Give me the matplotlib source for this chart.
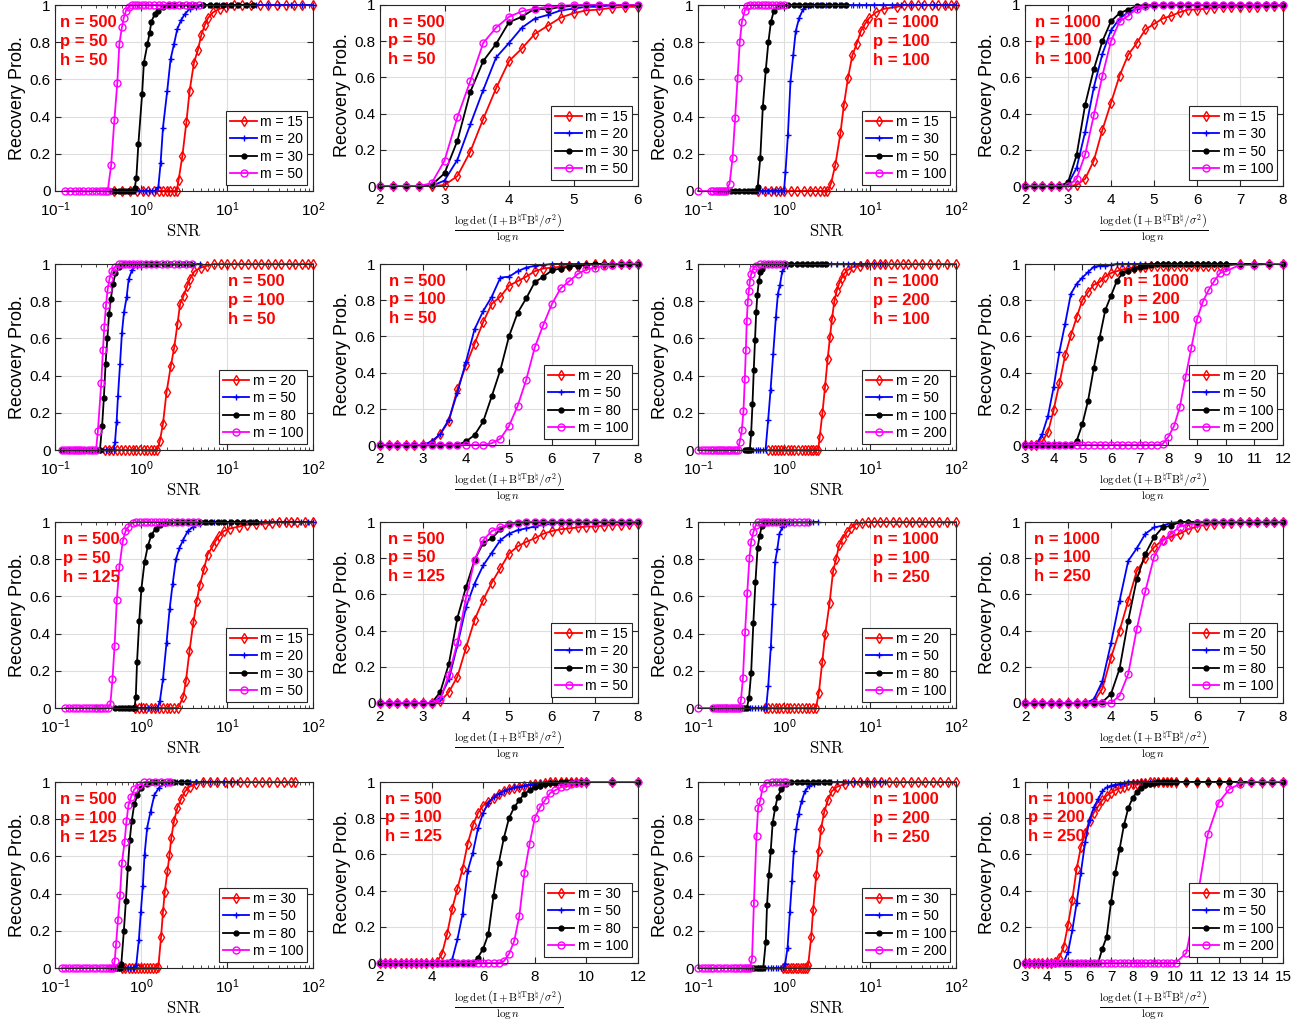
import matplotlib
matplotlib.use("Agg")
import matplotlib.pyplot as plt
from matplotlib.ticker import LogLocator, NullFormatter, FixedLocator

plt.rcParams['font.family'] = ['Liberation Sans', 'DejaVu Sans']
plt.rcParams['mathtext.fontset'] = 'cm'

# ---------------- data ----------------
grid_2_6 = [2.0, 2.2, 2.4, 2.6, 2.8, 3.0, 3.2, 3.4, 3.6, 3.8, 4.0, 4.2, 4.4, 4.6,
            4.8, 5.0, 5.2, 5.4, 5.6, 5.8, 6.0]
grid_2_8 = [2.0, 2.2, 2.4, 2.6, 2.8, 3.0, 3.2, 3.4, 3.6, 3.8, 4.0, 4.2, 4.4, 4.6,
            4.8, 5.0, 5.2, 5.4, 5.6, 5.8, 6.0, 6.2, 6.4, 6.6, 6.8, 7.0, 7.2, 7.4,
            7.6, 7.8, 8.0]
grid_3_12 = [3.0, 3.2, 3.4, 3.6, 3.8, 4.0, 4.2, 4.4, 4.6, 4.8, 5.0, 5.2, 5.4, 5.6,
             5.8, 6.0, 6.2, 6.4, 6.6, 6.8, 7.0, 7.2, 7.4, 7.6, 7.8, 8.0, 8.2, 8.4,
             8.6, 8.8, 9.0, 9.2, 9.4, 9.6, 9.8, 10.0, 10.5, 11.0, 11.5, 12.0]
grid_2_12 = [2.0, 2.2, 2.4, 2.6, 2.8, 3.0, 3.2, 3.4, 3.6, 3.8, 4.0, 4.2, 4.4, 4.6,
             4.8, 5.0, 5.2, 5.4, 5.6, 5.8, 6.0, 6.2, 6.4, 6.6, 6.8, 7.0, 7.2, 7.4,
             7.6, 7.8, 8.0, 8.2, 8.4, 8.6, 8.8, 9.0, 9.2, 9.4, 9.6, 9.8, 10.0,
             11.0, 12.0]
grid_3_15 = [3.0, 3.2, 3.4, 3.6, 3.8, 4.0, 4.2, 4.4, 4.6, 4.8, 5.0, 5.2, 5.4, 5.6,
             5.8, 6.0, 6.2, 6.4, 6.6, 6.8, 7.0, 7.2, 7.4, 7.6, 7.8, 8.0, 8.2, 8.4,
             8.6, 8.8, 9.0, 9.2, 9.4, 9.6, 9.8, 10.0, 10.5, 11.0, 11.5, 12.0,
             12.5, 13.0, 13.5, 14.0, 14.5, 15.0]

# row 1, col 1 : n=500 p=50 h=50 (SNR)
p11_x15 = [0.49, 0.6, 0.75, 0.9, 1.05, 1.2, 1.4, 1.6, 1.8, 2.0, 2.2, 2.4, 2.6, 2.74, 3.03,
           3.37, 3.68, 4.13, 4.6, 5.03, 5.5, 6.01, 6.87, 8.22, 9.8, 12, 15, 19, 24, 30,
           38, 48, 60, 75, 100]
p11_y15 = [0.0] * 13 + [0.06, 0.19, 0.37, 0.54, 0.69, 0.76, 0.84, 0.89, 0.93, 0.96, 0.98,
                        0.99] + [1.0] * 10
p11_x20 = [0.85, 0.95, 1.05, 1.15, 1.25, 1.35, 1.45, 1.59, 1.69, 1.80, 2.02, 2.21, 2.42,
           2.64, 2.94, 3.22, 3.68, 4.40, 5.2, 6.5, 8, 10, 13, 17, 22, 30, 40, 55, 75, 100]
p11_y20 = [0.0] * 7 + [0.02, 0.15, 0.34, 0.54, 0.71, 0.79, 0.87, 0.92, 0.95, 0.98,
                       0.99] + [1.0] * 12
p11_x30 = [0.45, 0.5, 0.55, 0.6, 0.65, 0.7, 0.75, 0.8, 0.843, 0.883, 0.931, 1.03, 1.08,
           1.19, 1.26, 1.32, 1.44, 1.58, 1.80, 2.1, 2.5, 3.0, 3.6, 4.3, 5.2, 6.3, 7.5, 9,
           11, 13.5, 16.5, 20]
p11_y30 = [0.0] * 8 + [0.014, 0.07, 0.25, 0.52, 0.69, 0.79, 0.85, 0.91, 0.95, 0.97,
                       0.99] + [1.0] * 13
p11_x50 = [0.13, 0.15, 0.17, 0.19, 0.21, 0.24, 0.27, 0.30, 0.33, 0.36, 0.39, 0.41, 0.45,
           0.49, 0.53, 0.56, 0.60, 0.63, 0.67, 0.72, 0.78, 0.85, 0.93, 1.02, 1.12, 1.25,
           1.4, 1.6, 1.8, 2.1, 2.4, 2.8, 3.3, 3.9, 4.7]
p11_y50 = [0.0] * 12 + [0.14, 0.38, 0.58, 0.79, 0.88, 0.93, 0.97, 0.99] + [1.0] * 15

# row 1, col 2 : n=500 p=50 h=50 (log det)
p12_y15 = [0, 0, 0, 0, 0, 0.005, 0.055, 0.19, 0.37, 0.54, 0.69, 0.76, 0.84, 0.885, 0.93,
           0.955, 0.97, 0.975, 0.985, 0.99, 0.99]
p12_y20 = [0, 0, 0, 0, 0, 0.03, 0.145, 0.34, 0.53, 0.71, 0.79, 0.875, 0.925, 0.945, 0.97,
           0.98, 0.99, 0.99, 1, 1, 1]
p12_y30 = [0, 0, 0, 0, 0.005, 0.07, 0.25, 0.52, 0.69, 0.785, 0.905, 0.935, 0.98, 0.975,
           0.99, 0.995, 1, 1, 1, 1, 1]
p12_y50 = [0, 0, 0, 0, 0.015, 0.14, 0.38, 0.58, 0.79, 0.875, 0.935, 0.965, 0.98, 0.99,
           0.995, 1, 1, 1, 1, 1, 1]

# row 1, col 3 : n=1000 p=100 h=100 (SNR)
p13_x15 = [0.5, 0.6, 0.7, 0.8, 0.9, 1.0, 1.2, 1.4, 1.7, 2.0, 2.3, 2.6, 2.9, 3.2, 3.52,
           3.95, 4.53, 4.96, 5.56, 6.24, 6.99, 7.83, 8.79, 9.8, 11.7, 14.7, 20.7, 25, 30,
           36, 43, 52, 62, 75, 87, 100]
p13_y15 = [0.0] * 14 + [0.04, 0.14, 0.31, 0.46, 0.61, 0.73, 0.79, 0.86, 0.90, 0.93, 0.96,
                        0.98, 0.99] + [1.0] * 9
p13_x30 = [0.5, 0.55, 0.6, 0.66, 0.72, 0.78, 0.85, 0.92, 1.0, 1.04, 1.11, 1.19, 1.28,
           1.37, 1.50, 1.68, 1.88, 2.2, 2.6, 3.1, 3.7, 4.4, 5.3, 6.3, 7.5, 9, 11, 14, 18,
           23, 30, 40, 55, 75, 100]
p13_y30 = [0.0] * 9 + [0.10, 0.30, 0.59, 0.73, 0.86, 0.93, 0.98, 0.995] + [1.0] * 18
p13_x50 = [0.18, 0.21, 0.24, 0.27, 0.30, 0.34, 0.38, 0.42, 0.46, 0.494, 0.53, 0.567,
           0.614, 0.658, 0.705, 0.764, 0.846, 0.95, 1.1, 1.3, 1.5, 1.75, 2.0, 2.4, 2.8,
           3.3, 3.9, 4.6, 5.2]
p13_y50 = [0.0] * 9 + [0.02, 0.18, 0.45, 0.65, 0.80, 0.91, 0.97, 0.995] + [1.0] * 12
p13_x100 = [0.1, 0.14, 0.15, 0.16, 0.17, 0.18, 0.19, 0.2, 0.212, 0.233, 0.252, 0.27,
            0.289, 0.306, 0.324, 0.35, 0.37, 0.4, 0.45, 0.5, 0.55, 0.6, 0.66, 0.72, 0.8,
            0.9, 1.0]
p13_y100 = [0.0] * 9 + [0.04, 0.175, 0.39, 0.61, 0.80, 0.91, 0.97, 0.995] + [1.0] * 10

# row 1, col 4 : n=1000 p=100 h=100 (log det)
p14_y15 = [0, 0, 0, 0, 0, 0, 0.005, 0.04, 0.14, 0.31, 0.46, 0.61, 0.725, 0.79, 0.865,
           0.895, 0.925, 0.94, 0.96, 0.975, 0.975, 0.98, 0.985, 0.99, 0.99, 0.99, 0.99,
           0.99, 0.995, 0.995, 0.995]
p14_y30 = [0.0] * 5 + [0.01, 0.10, 0.30, 0.545, 0.73, 0.86, 0.925, 0.96, 0.98, 0.99,
                       0.995] + [1.0] * 15
p14_y50 = [0.0] * 5 + [0.02, 0.17, 0.45, 0.645, 0.80, 0.91, 0.955, 0.975,
                       0.995] + [1.0] * 17
p14_y100 = [0.0] * 6 + [0.04, 0.175, 0.39, 0.61, 0.80, 0.91, 0.94, 0.98,
                        0.995] + [1.0] * 16

# row 2, col 1 : n=500 p=100 h=50 (SNR)
p21_x20 = [0.38, 0.42, 0.47, 0.52, 0.58, 0.65, 0.72, 0.8, 0.88, 0.97, 1.07, 1.18, 1.3,
           1.43, 1.55, 1.66, 1.80, 1.98, 2.22, 2.43, 2.66, 2.85, 3.13, 3.43, 3.71, 4.17,
           4.95, 5.87, 7, 8.5, 10, 12, 14.5, 17.5, 21, 25, 30, 36, 43, 52, 62, 75, 87, 100]
p21_y20 = [0.0] * 15 + [0.05, 0.14, 0.31, 0.45, 0.55, 0.68, 0.785, 0.83, 0.88, 0.92,
                        0.96, 0.98, 0.99] + [1.0] * 16
p21_x50 = [0.33, 0.36, 0.39, 0.42, 0.45, 0.48, 0.499, 0.52, 0.54, 0.57, 0.60, 0.634, 0.68,
           0.72, 0.79, 0.89, 1.0, 1.15, 1.35, 1.6, 1.9, 2.3, 2.8, 3.4, 4.1, 4.9]
p21_y50 = [0.0] * 6 + [0.045, 0.15, 0.29, 0.46, 0.63, 0.74, 0.82, 0.92, 0.97,
                       0.99] + [1.0] * 10
p21_x80 = [0.12, 0.14, 0.16, 0.18, 0.2, 0.22, 0.25, 0.28, 0.31, 0.333, 0.353, 0.37, 0.387,
           0.406, 0.425, 0.445, 0.471, 0.505, 0.56, 0.63, 0.72, 0.82, 0.95, 1.1, 1.3,
           1.55, 1.85, 2.2, 2.6, 3.1, 3.7]
p21_y80 = [0.0] * 10 + [0.13, 0.28, 0.46, 0.60, 0.73, 0.81, 0.89, 0.95, 0.985] + [1.0] * 12
p21_x100 = [0.12, 0.13, 0.14, 0.15, 0.16, 0.17, 0.18, 0.19, 0.2, 0.22, 0.24, 0.26, 0.28,
            0.3, 0.315, 0.345, 0.361, 0.374, 0.392, 0.41, 0.43, 0.455, 0.499, 0.55, 0.6,
            0.66, 0.73, 0.8, 0.9, 1.0, 1.15, 1.3, 1.5, 1.75, 2.0, 2.4, 2.8, 3.3, 3.9]
p21_y100 = [0.0] * 14 + [0.10, 0.36, 0.54, 0.66, 0.78, 0.865, 0.92, 0.96,
                         0.985] + [1.0] * 16

# row 2, col 2 : n=500 p=100 h=50 (log det)
p22_y20 = [0.0] * 6 + [0.01, 0.06, 0.13, 0.31, 0.44, 0.56, 0.68, 0.78, 0.82, 0.88, 0.905,
                       0.93, 0.96, 0.975, 0.98, 0.985, 0.99, 0.99, 0.995] + [1.0] * 6
p22_y50 = [0.0] * 6 + [0.02, 0.06, 0.14, 0.29, 0.46, 0.64, 0.74, 0.82, 0.925, 0.93, 0.96,
                       0.98, 0.99, 0.995] + [1.0] * 11
p22_y80 = [0.0] * 10 + [0.02, 0.055, 0.13, 0.27, 0.415, 0.60, 0.73, 0.81, 0.90, 0.93,
                        0.965, 0.975, 0.985, 0.99, 0.995] + [1.0] * 6
p22_y100 = [0.0] * 13 + [0.01, 0.035, 0.105, 0.215, 0.36, 0.54, 0.665, 0.78, 0.865, 0.905,
                         0.945, 0.97, 0.98, 0.99, 0.995] + [1.0] * 3

# row 2, col 3 : n=1000 p=200 h=100 (SNR)
p23_x20 = [0.66, 0.72, 0.78, 0.85, 0.92, 1.0, 1.1, 1.2, 1.32, 1.45, 1.6, 1.75, 1.9, 2.05,
           2.2, 2.35, 2.5, 2.6, 2.8, 3.0, 3.22, 3.43, 3.61, 3.85, 4.1, 4.37, 4.69, 5.04,
           5.6, 6.4, 7.7, 9.3, 11, 13, 15, 17.5, 20.5, 24, 28, 33, 40, 50, 62, 78, 100]
p23_y20 = [0.0] * 17 + [0.07, 0.20, 0.34, 0.49, 0.61, 0.705, 0.80, 0.855, 0.895, 0.925,
                        0.95, 0.97, 0.985, 0.99] + [1.0] * 14
p23_x50 = [0.38, 0.41, 0.44, 0.47, 0.5, 0.53, 0.57, 0.61, 0.654, 0.697, 0.748, 0.805,
           0.85, 0.895, 0.953, 1.07, 1.2, 1.4, 1.65, 1.9, 2.2, 2.6, 3.0, 3.5, 4.1, 4.8,
           5.6, 6.6, 7.8, 9.2, 11, 13, 15]
p23_y50 = [0.0] * 8 + [0.16, 0.32, 0.515, 0.715, 0.84, 0.885, 0.96, 0.99] + [1.0] * 17
p23_x100 = [0.35, 0.37, 0.385, 0.40, 0.415, 0.43, 0.445, 0.46, 0.475, 0.49, 0.51, 0.53,
            0.55, 0.59, 0.64, 0.7, 0.77, 0.85, 0.95, 1.05, 1.2, 1.4, 1.6, 1.85, 2.1, 2.4,
            2.75, 3.1]
p23_y100 = [0.0] * 4 + [0.09, 0.245, 0.43, 0.59, 0.74, 0.835, 0.91, 0.955, 0.975,
                        0.995] + [1.0] * 14
p23_x200 = [0.1, 0.11, 0.12, 0.13, 0.14, 0.15, 0.16, 0.17, 0.18, 0.19, 0.2, 0.215, 0.23,
            0.245, 0.26, 0.275, 0.29, 0.306, 0.323, 0.338, 0.35, 0.36, 0.369, 0.379, 0.39,
            0.40, 0.415, 0.438, 0.47, 0.523, 0.58, 0.65, 0.72, 0.8, 0.9, 1.0]
p23_y200 = [0.0] * 17 + [0.045, 0.105, 0.21, 0.38, 0.535, 0.695, 0.795, 0.855, 0.905,
                         0.945, 0.975, 0.99] + [1.0] * 7

# row 2, col 4 : n=1000 p=200 h=100 (log det)
p24_y20 = [0.0] * 3 + [0.02, 0.07, 0.195, 0.34, 0.495, 0.605, 0.705, 0.80, 0.845, 0.885,
                       0.90, 0.93, 0.95, 0.96, 0.97, 0.975, 0.98, 0.985,
                       0.985] + [0.99] * 14 + [1.0] * 4
p24_y50 = [0, 0, 0.005, 0.06, 0.16, 0.32, 0.515, 0.67, 0.835, 0.89, 0.925, 0.955, 0.985,
           0.99, 0.99, 0.995] + [1.0] * 24
p24_y100 = [0.0] * 9 + [0.022, 0.115, 0.245, 0.425, 0.59, 0.745, 0.825, 0.905, 0.95, 0.96,
                        0.975, 0.985, 0.99, 0.995] + [1.0] * 17
p24_y200 = [0.0] * 24 + [0.005, 0.045, 0.105, 0.21, 0.375, 0.535, 0.695, 0.79, 0.855,
                         0.905, 0.95, 0.96, 0.995, 0.995, 1.0, 1.0]

# row 3, col 1 : n=500 p=50 h=125 (SNR)
p31_x15 = [0.85, 0.95, 1.05, 1.15, 1.3, 1.45, 1.6, 1.8, 2.0, 2.2, 2.45, 2.70, 3.10, 3.33,
           3.66, 4.06, 4.45, 4.82, 5.42, 5.94, 6.83, 7.40, 8.12, 9.12, 10.8, 13.7, 17.2,
           22, 27.3, 33, 40, 48, 55, 65, 80, 100]
p31_y15 = [0.0] * 12 + [0.06, 0.145, 0.305, 0.46, 0.575, 0.66, 0.75, 0.825, 0.87, 0.90,
                        0.925, 0.95, 0.965, 0.975, 0.985, 0.99, 0.99, 0.995] + [1.0] * 6
p31_x20 = [0.8, 0.9, 1.0, 1.1, 1.2, 1.32, 1.45, 1.56, 1.66, 1.80, 1.98, 2.15, 2.33, 2.55,
           2.80, 3.10, 3.49, 4.06, 4.82, 5.8, 7, 8.5, 10.5, 13, 16, 20, 25, 31, 38, 47,
           58, 72, 87, 100]
p31_y20 = [0.0] * 8 + [0.04, 0.155, 0.35, 0.53, 0.665, 0.80, 0.86, 0.905, 0.95, 0.975,
                       0.99] + [1.0] * 15
p31_x30 = [0.5, 0.55, 0.6, 0.65, 0.7, 0.75, 0.8, 0.84, 0.87, 0.90, 0.955, 1.01, 1.10, 1.2,
           1.32, 1.48, 1.66, 1.91, 2.2, 2.6, 3.0, 3.5, 4.1, 4.8, 5.6, 6.6, 7.8, 9.2, 11,
           13, 15.5, 18.5, 22]
p31_y30 = [0.0] * 8 + [0.06, 0.25, 0.47, 0.64, 0.785, 0.87, 0.93, 0.965, 0.985,
                       0.995] + [1.0] * 15
p31_x50 = [0.13, 0.145, 0.16, 0.175, 0.19, 0.21, 0.23, 0.25, 0.27, 0.29, 0.31, 0.33,
           0.355, 0.38, 0.41, 0.44, 0.466, 0.493, 0.523, 0.561, 0.615, 0.66, 0.715, 0.80,
           0.88, 0.97, 1.07, 1.18, 1.3, 1.45, 1.6, 1.8, 2.0, 2.3, 2.6, 3.0, 3.5, 4.0, 4.6]
p31_y50 = [0.0] * 15 + [0.02, 0.155, 0.335, 0.58, 0.76, 0.90, 0.95, 0.975,
                        0.995] + [1.0] * 15

# row 3, col 2 : n=500 p=50 h=125 (log det)
p32_y15 = [0.0] * 7 + [0.01, 0.06, 0.145, 0.305, 0.46, 0.57, 0.665, 0.745, 0.825, 0.865,
                       0.89, 0.91, 0.935, 0.95, 0.96, 0.965, 0.97, 0.975, 0.975, 0.98,
                       0.985, 0.985, 0.99, 0.99]
p32_y20 = [0.0] * 7 + [0.03, 0.13, 0.32, 0.53, 0.66, 0.76, 0.83, 0.90, 0.935, 0.955,
                       0.965, 0.975, 0.985, 0.99, 0.995] + [1.0] * 9
p32_y30 = [0.0] * 7 + [0.06, 0.215, 0.47, 0.64, 0.79, 0.885, 0.91, 0.96, 0.985,
                       0.995] + [1.0] * 14
p32_y50 = [0.0] * 7 + [0.02, 0.155, 0.335, 0.58, 0.79, 0.90, 0.95, 0.97, 0.99,
                       0.995] + [1.0] * 14

# row 3, col 3 : n=1000 p=100 h=250 (SNR)
p33_x20 = [0.6, 0.66, 0.72, 0.8, 0.88, 0.97, 1.07, 1.18, 1.3, 1.45, 1.6, 1.78, 1.95, 2.15,
           2.35, 2.54, 2.79, 3.02, 3.39, 3.72, 4.03, 4.37, 4.79, 5.37, 6.03, 6.9, 8, 9.5,
           11, 13, 15.5, 18.5, 22, 26, 31, 37, 44, 53, 64, 78, 100]
p33_y20 = [0.0] * 15 + [0.08, 0.25, 0.40, 0.565, 0.735, 0.80, 0.875, 0.91, 0.945, 0.97,
                        0.99, 0.995] + [1.0] * 14
p33_x50 = [0.4, 0.43, 0.46, 0.5, 0.54, 0.58, 0.62, 0.656, 0.703, 0.745, 0.789, 0.836,
           0.885, 0.96, 1.05, 1.15, 1.28, 1.42, 1.58, 1.75, 1.95, 2.2, 2.5]
p33_y50 = [0.0] * 7 + [0.12, 0.33, 0.56, 0.785, 0.855, 0.935, 0.975, 0.99] + [1.0] * 8
p33_x80 = [0.15, 0.17, 0.19, 0.21, 0.23, 0.25, 0.27, 0.29, 0.31, 0.33, 0.35, 0.37, 0.392,
           0.415, 0.44, 0.466, 0.493, 0.52, 0.552, 0.6, 0.65, 0.7, 0.76, 0.82, 0.9, 1.0]
p33_y80 = [0.0] * 12 + [0.055, 0.19, 0.455, 0.68, 0.86, 0.925, 0.98] + [1.0] * 7
p33_x100 = [0.1, 0.15, 0.16, 0.17, 0.18, 0.19, 0.2, 0.21, 0.22, 0.235, 0.25, 0.265, 0.28,
            0.29, 0.304, 0.316, 0.333, 0.353, 0.374, 0.396, 0.415, 0.44, 0.471, 0.5, 0.55,
            0.6, 0.66, 0.72, 0.8, 0.9, 1.0, 1.15, 1.3, 1.5, 1.7, 1.9]
p33_y100 = [0.0] * 15 + [0.045, 0.16, 0.41, 0.62, 0.805, 0.895, 0.945,
                         0.985] + [1.0] * 13

# row 3, col 4 : n=1000 p=100 h=250 (log det)
p34_y20 = [0.0] * 8 + [0.005, 0.08, 0.25, 0.40, 0.565, 0.73, 0.80, 0.86, 0.90, 0.92,
                       0.935, 0.96, 0.975, 0.985, 0.99, 0.995, 0.995] + [1.0] * 6
p34_y50 = [0.0] * 8 + [0.02, 0.12, 0.33, 0.565, 0.785, 0.855, 0.935, 0.97, 0.98,
                       0.995] + [1.0] * 13
p34_y80 = [0.0] * 9 + [0.005, 0.05, 0.19, 0.455, 0.685, 0.825, 0.915, 0.97,
                       0.98] + [1.0] * 13
p34_y100 = [0.0] * 11 + [0.04, 0.16, 0.41, 0.62, 0.805, 0.895, 0.935, 0.975, 0.985,
                         0.995] + [1.0] * 10

# row 4, col 1 : n=500 p=100 h=125 (SNR)
p41_x30 = [0.6, 0.66, 0.72, 0.78, 0.85, 0.92, 1.0, 1.08, 1.17, 1.27, 1.38, 1.48, 1.59,
           1.71, 1.80, 1.89, 2.03, 2.14, 2.25, 2.42, 2.64, 2.93, 3.25, 3.67, 4.37, 5.2,
           6.3, 7.7, 9.4, 11.5, 14, 17, 21, 25.5, 31, 38, 46, 55, 62]
p41_y30 = [0.0] * 12 + [0.005, 0.165, 0.30, 0.41, 0.52, 0.605, 0.70, 0.79, 0.86, 0.91,
                        0.95, 0.975, 0.99] + [1.0] * 14
p41_x50 = [0.5, 0.55, 0.6, 0.65, 0.7, 0.75, 0.8, 0.84, 0.88, 0.944, 0.995, 1.05, 1.10,
           1.18, 1.29, 1.43, 1.62, 1.89, 2.2, 2.6, 3.1, 3.7, 4.4, 5.3, 6.4, 7.7, 9.3, 11, 13]
p41_y50 = [0.0] * 8 + [0.015, 0.15, 0.30, 0.44, 0.61, 0.755, 0.84, 0.93, 0.97,
                       0.99] + [1.0] * 11
p41_x80 = [0.45, 0.48, 0.51, 0.54, 0.565, 0.59, 0.632, 0.667, 0.703, 0.74, 0.78, 0.835,
           0.91, 1.01, 1.18, 1.35, 1.55, 1.8, 2.1, 2.45, 2.9, 3.4]
p41_y80 = [0.0] * 5 + [0.02, 0.2, 0.36, 0.535, 0.69, 0.79, 0.88, 0.93, 0.97,
                       0.99] + [1.0] * 7
p41_x100 = [0.12, 0.13, 0.145, 0.16, 0.175, 0.19, 0.21, 0.23, 0.25, 0.275, 0.3, 0.33,
            0.36, 0.39, 0.42, 0.45, 0.475, 0.495, 0.513, 0.54, 0.57, 0.60, 0.645, 0.678,
            0.715, 0.766, 0.835, 0.944, 1.09, 1.25, 1.45, 1.7, 2.0, 2.2]
p41_y100 = [0.0] * 17 + [0.04, 0.13, 0.26, 0.39, 0.565, 0.68, 0.79, 0.875, 0.92, 0.96,
                         0.985] + [1.0] * 6

# row 4, col 2 : n=500 p=100 h=125 (log det)
p42_y30 = [0.0] * 11 + [0.005, 0.05, 0.16, 0.30, 0.41, 0.52, 0.66, 0.76, 0.83, 0.87, 0.89,
                        0.91, 0.935, 0.95, 0.96, 0.965, 0.97, 0.98, 0.985, 0.99, 0.99,
                        0.995] + [1.0] * 10
p42_y50 = [0.0] * 14 + [0.02, 0.13, 0.27, 0.51, 0.61, 0.745, 0.83, 0.885, 0.915, 0.935,
                        0.95, 0.96, 0.97, 0.975, 0.98, 0.985, 0.99, 0.995,
                        0.995] + [1.0] * 10
p42_y80 = [0.0] * 19 + [0.03, 0.08, 0.16, 0.37, 0.55, 0.69, 0.80, 0.86, 0.90, 0.935,
                        0.955, 0.97, 0.98, 0.99, 0.995, 0.995] + [1.0] * 8
p42_y100 = [0.0] * 24 + [0.01, 0.05, 0.12, 0.26, 0.50, 0.66, 0.80, 0.86, 0.90, 0.94,
                         0.955, 0.97, 0.98, 0.99, 0.995] + [1.0] * 4

# row 4, col 3 : n=1000 p=200 h=250 (SNR)
p43_x30 = [0.98, 1.05, 1.12, 1.2, 1.28, 1.37, 1.46, 1.56, 1.66, 1.77, 1.85, 1.91, 2.07,
           2.18, 2.37, 2.53, 2.70, 2.94, 3.25, 3.59, 4.17, 5.17, 6.3, 7.6, 9.2, 11, 13.5,
           16.5, 20, 24.5, 30, 36, 44, 54, 66, 81, 100]
p43_y30 = [0.0] * 11 + [0.015, 0.165, 0.31, 0.50, 0.63, 0.75, 0.84, 0.905, 0.95, 0.975,
                        0.99] + [1.0] * 15
p43_x50 = [0.6, 0.65, 0.7, 0.75, 0.8, 0.86, 0.92, 0.97, 1.03, 1.10, 1.17, 1.24, 1.30, 1.39,
           1.48, 1.61, 1.75, 1.97, 2.25, 2.6, 3.0, 3.5, 4.1, 4.8, 5.6, 6.6, 7.8, 9.2, 11,
           13, 15]
p43_y50 = [0.0] * 8 + [0.02, 0.11, 0.30, 0.47, 0.63, 0.75, 0.83, 0.90, 0.95, 0.98,
                       0.99] + [1.0] * 12
p43_x100 = [0.36, 0.39, 0.42, 0.45, 0.48, 0.51, 0.54, 0.574, 0.614, 0.635, 0.667, 0.701,
            0.738, 0.789, 0.843, 0.931, 1.06, 1.2, 1.4, 1.6, 1.85, 2.15, 2.5, 2.9, 3.3]
p43_y100 = [0.0] * 8 + [0.14, 0.34, 0.50, 0.63, 0.78, 0.86, 0.92, 0.96, 0.99] + [1.0] * 8
p43_x200 = [0.1, 0.11, 0.12, 0.13, 0.14, 0.15, 0.165, 0.18, 0.2, 0.22, 0.24, 0.26, 0.28,
            0.3, 0.32, 0.34, 0.36, 0.38, 0.40, 0.425, 0.447, 0.479, 0.50, 0.528, 0.565,
            0.64, 0.72, 0.8, 0.9, 1.0, 1.05]
p43_y200 = [0.0] * 19 + [0.05, 0.35, 0.71, 0.86, 0.90, 0.97, 0.995] + [1.0] * 5

# row 4, col 4 : n=1000 p=200 h=250 (log det)
p44_y30 = [0.0] * 7 + [0.005, 0.03, 0.09, 0.21, 0.35, 0.52, 0.64, 0.72, 0.785, 0.83, 0.865,
                       0.90, 0.925, 0.94, 0.955, 0.965, 0.975, 0.985, 0.99, 0.99, 0.995,
                       0.995] + [1.0] * 17
p44_y50 = [0.0] * 9 + [0.005, 0.06, 0.18, 0.33, 0.50, 0.67, 0.79, 0.86, 0.905, 0.95, 0.97,
                       0.98, 0.985, 0.99, 0.995] + [1.0] * 22
p44_y100 = [0.0] * 18 + [0.08, 0.145, 0.335, 0.50, 0.63, 0.76, 0.855, 0.91, 0.945, 0.965,
                         0.985, 0.99, 0.995] + [1.0] * 15
p44_y200 = [0.0] * 36 + [0.055, 0.35, 0.71, 0.885, 0.96, 0.99, 1.0, 1.0, 1.0, 1.0]

# panel parameters
panel_n = [500, 500, 1000, 1000, 500, 500, 1000, 1000, 500, 500, 1000, 1000,
           500, 500, 1000, 1000]
panel_p = [50, 50, 100, 100, 100, 100, 200, 200, 50, 50, 100, 100, 100, 100, 200, 200]
panel_h = [50, 50, 100, 100, 50, 50, 100, 100, 125, 125, 250, 250, 125, 125, 250, 250]
panel_m = [[15, 20, 30, 50], [15, 20, 30, 50], [15, 30, 50, 100], [15, 30, 50, 100],
           [20, 50, 80, 100], [20, 50, 80, 100], [20, 50, 100, 200], [20, 50, 100, 200],
           [15, 20, 30, 50], [15, 20, 30, 50], [20, 50, 80, 100], [20, 50, 80, 100],
           [30, 50, 80, 100], [30, 50, 80, 100], [30, 50, 100, 200], [30, 50, 100, 200]]

panel_curves = [
    [(p11_x15, p11_y15), (p11_x20, p11_y20), (p11_x30, p11_y30), (p11_x50, p11_y50)],
    [(grid_2_6, p12_y15), (grid_2_6, p12_y20), (grid_2_6, p12_y30), (grid_2_6, p12_y50)],
    [(p13_x15, p13_y15), (p13_x30, p13_y30), (p13_x50, p13_y50), (p13_x100, p13_y100)],
    [(grid_2_8, p14_y15), (grid_2_8, p14_y30), (grid_2_8, p14_y50), (grid_2_8, p14_y100)],
    [(p21_x20, p21_y20), (p21_x50, p21_y50), (p21_x80, p21_y80), (p21_x100, p21_y100)],
    [(grid_2_8, p22_y20), (grid_2_8, p22_y50), (grid_2_8, p22_y80), (grid_2_8, p22_y100)],
    [(p23_x20, p23_y20), (p23_x50, p23_y50), (p23_x100, p23_y100), (p23_x200, p23_y200)],
    [(grid_3_12, p24_y20), (grid_3_12, p24_y50), (grid_3_12, p24_y100),
     (grid_3_12, p24_y200)],
    [(p31_x15, p31_y15), (p31_x20, p31_y20), (p31_x30, p31_y30), (p31_x50, p31_y50)],
    [(grid_2_8, p32_y15), (grid_2_8, p32_y20), (grid_2_8, p32_y30), (grid_2_8, p32_y50)],
    [(p33_x20, p33_y20), (p33_x50, p33_y50), (p33_x80, p33_y80), (p33_x100, p33_y100)],
    [(grid_2_8, p34_y20), (grid_2_8, p34_y50), (grid_2_8, p34_y80), (grid_2_8, p34_y100)],
    [(p41_x30, p41_y30), (p41_x50, p41_y50), (p41_x80, p41_y80), (p41_x100, p41_y100)],
    [(grid_2_12, p42_y30), (grid_2_12, p42_y50), (grid_2_12, p42_y80),
     (grid_2_12, p42_y100)],
    [(p43_x30, p43_y30), (p43_x50, p43_y50), (p43_x100, p43_y100), (p43_x200, p43_y200)],
    [(grid_3_15, p44_y30), (grid_3_15, p44_y50), (grid_3_15, p44_y100),
     (grid_3_15, p44_y200)],
]

# x ranges / ticks of the log-det panels (col 2 and col 4)
logdet_xlim = {1: (2, 6), 3: (2, 8), 5: (2, 8), 7: (3, 12), 9: (2, 8), 11: (2, 8),
               13: (2, 12), 15: (3, 15)}
logdet_xticks = {1: [2, 3, 4, 5, 6], 3: [2, 3, 4, 5, 6, 7, 8], 5: [2, 3, 4, 5, 6, 7, 8],
                 7: [3, 4, 5, 6, 7, 8, 9, 10, 11, 12], 9: [2, 3, 4, 5, 6, 7, 8],
                 11: [2, 3, 4, 5, 6, 7, 8], 13: [2, 4, 6, 8, 10, 12],
                 15: [3, 4, 5, 6, 7, 8, 9, 10, 11, 12, 13, 14, 15]}

# ---------------- layout / style ----------------
STYLES = [
    dict(color='#ff0000', marker='d', mfc='none', ms=5, mew=1.0, lw=1.3),
    dict(color='#0000ff', marker='+', ms=5, mew=1.0, lw=1.3),
    dict(color='black', marker='.', ms=7, lw=1.3),
    dict(color='#ff00ff', marker='o', mfc='none', ms=5, mew=1.0, lw=1.3),
]
col_left = [55, 380, 698, 1025]
row_top = [5, 264, 522, 782]
AX_W = 258
AX_H = [186, 181, 186, 181]   # log-det columns are a little shorter
FW, FH = 1305, 1022
# horizontal position (axes fraction) of the n/p/h annotation
info_x = [0.02, 0.03, 0.68, 0.04, 0.67, 0.035, 0.68, 0.38,
          0.03, 0.03, 0.68, 0.035, 0.02, 0.02, 0.68, 0.01]

LOGDET = (r'$\frac{\log\det\left(\mathrm{I}+\mathrm{B}^{\natural\mathrm{T}}'
          r'\mathrm{B}^{\natural}/\sigma^2\right)}{\log n}$')

fig = plt.figure(figsize=(FW / 100, FH / 100), dpi=100)

for k in range(16):
    r, c = divmod(k, 4)
    h = AX_H[c]
    ax = fig.add_axes([col_left[c] / FW, 1 - (row_top[r] + h) / FH, AX_W / FW, h / FH])
    for (x, y), m, st in zip(panel_curves[k], panel_m[k], STYLES):
        ax.plot(x, y, label=f'm = {m}', clip_on=False, **st)

    if c % 2 == 0:
        ax.set_xscale('log')
        ax.set_xlim(0.1, 100)
        ax.xaxis.set_major_locator(FixedLocator([0.1, 1, 10, 100]))
        ax.xaxis.set_minor_locator(LogLocator(base=10, subs=range(2, 10), numticks=20))
        ax.xaxis.set_minor_formatter(NullFormatter())
        ax.set_xlabel(r'$\mathrm{SNR}$', fontsize=12, labelpad=3)
        ax.tick_params(axis='x', which='major', pad=7)
    else:
        ax.set_xlim(*logdet_xlim[k])
        ax.set_xticks(logdet_xticks[k])
        ax.set_xlabel(LOGDET, fontsize=11.5, labelpad=4)
        ax.tick_params(axis='x', which='major', pad=5)

    ax.set_ylim(0, 1)
    ax.set_yticks([0, 0.2, 0.4, 0.6, 0.8, 1])
    ax.set_yticklabels(['0', '0.2', '0.4', '0.6', '0.8', '1'])
    ax.set_ylabel('Recovery Prob.', fontsize=13, labelpad=3)
    ax.grid(True, which='major', color='#dedede', lw=0.8)
    ax.set_axisbelow(True)
    ax.tick_params(which='both', direction='in', top=True, right=True, labelsize=11,
                   color='#262626')
    ax.tick_params(axis='y', which='major', pad=3)
    ax.tick_params(which='major', length=4)
    ax.tick_params(which='minor', length=2)
    for sp in ax.spines.values():
        sp.set_color('#262626')
        sp.set_linewidth(0.8)

    leg = ax.legend(loc='lower right', fontsize=10, frameon=True, fancybox=False,
                    framealpha=1, edgecolor='#262626', handlelength=1.9,
                    handletextpad=0.25, borderpad=0.3, labelspacing=0.25,
                    borderaxespad=0.4)
    leg.get_frame().set_linewidth(0.8)

    for j, s in enumerate([f'n = {panel_n[k]}', f'p = {panel_p[k]}', f'h = {panel_h[k]}']):
        ax.text(info_x[k], 0.905 - j * 0.102, s, transform=ax.transAxes, color='#ff0000',
                fontsize=12, fontweight='bold', va='center', ha='left', zorder=5)

fig.savefig('out.png', dpi=100)
